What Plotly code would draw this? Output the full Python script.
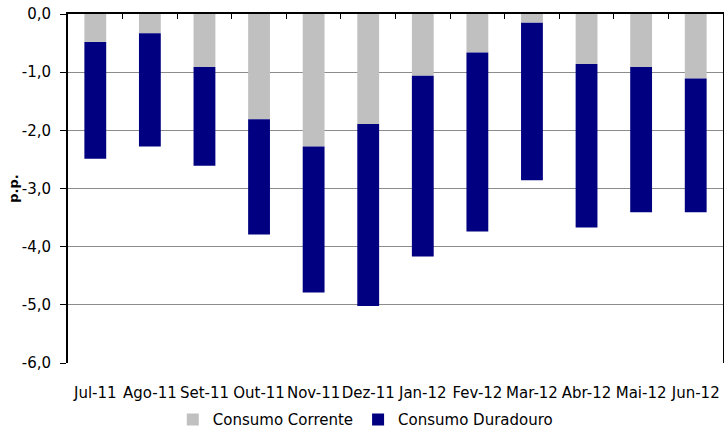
import plotly.graph_objects as go

# months shown on the category axis
meses = ["Jul-11", "Ago-11", "Set-11", "Out-11", "Nov-11", "Dez-11",
         "Jan-12", "Fev-12", "Mar-12", "Abr-12", "Mai-12", "Jun-12"]

# contributions in p.p.
consumo_corrente = [-0.48, -0.33, -0.91, -1.81, -2.28, -1.89,
                    -1.06, -0.66, -0.15, -0.86, -0.91, -1.11]
consumo_duradouro = [-2.01, -1.95, -1.70, -1.98, -2.51, -3.13,
                     -3.11, -3.08, -2.71, -2.81, -2.50, -2.30]

y_ticks = [0, -1, -2, -3, -4, -5, -6]
y_tick_text = ["0,0", "-1,0", "-2,0", "-3,0", "-4,0", "-5,0", "-6,0"]

FONT = "DejaVu Sans"

fig = go.Figure()
fig.add_trace(go.Bar(x=meses, y=consumo_corrente, name="Consumo Corrente",
                     marker=dict(color="#c0c0c0", line=dict(width=0))))
fig.add_trace(go.Bar(x=meses, y=consumo_duradouro, name="Consumo Duradouro",
                     marker=dict(color="#000080", line=dict(width=0))))

fig.update_layout(
    width=724, height=428,
    margin=dict(l=68, r=1, t=14, b=65, autoexpand=False),
    barmode="relative",
    bargap=0.6,
    plot_bgcolor="white",
    paper_bgcolor="white",
    font=dict(family=FONT, size=15, color="black"),
    showlegend=True,
    legend=dict(orientation="h", x=0.16, xanchor="left", y=-0.115,
                yanchor="top", font=dict(size=15), itemwidth=30,
                tracegroupgap=0),
    xaxis=dict(type="category", categoryorder="array", categoryarray=meses,
               range=[-0.5, 11.5], showline=False, ticks="",
               showgrid=False, ticklabelstandoff=19, automargin=False,
               tickangle=0, tickfont=dict(size=15)),
    xaxis2=dict(type="category", categoryorder="array", categoryarray=meses,
                range=[-0.5, 11.5], overlaying="x", side="top",
                anchor="y", showline=True, linecolor="black", linewidth=2,
                ticks="inside", ticklen=5, tickcolor="black",
                tickson="boundaries", showticklabels=False, showgrid=False,
                automargin=False),
    yaxis=dict(range=[-6, 0], tickvals=y_ticks, ticktext=y_tick_text,
               showline=True, linecolor="black", linewidth=2, mirror=True,
               ticks="outside", ticklen=6, tickcolor="black",
               ticklabelstandoff=6,
               showgrid=True, gridcolor="#8c8c8c", gridwidth=1,
               zeroline=False, automargin=False,
               title=dict(text="<b>p.p.</b>", standoff=0,
                          font=dict(size=13))),
    annotations=[dict(text="<b>Consumo Privado</b>", xref="paper",
                      yref="paper", x=0.476, y=1.026, yanchor="bottom",
                      showarrow=False,
                      font=dict(size=20, color="#9999dd"))],
)

# empty trace so the top axis line with boundary ticks is drawn
fig.add_trace(go.Bar(x=meses, y=[None] * len(meses), xaxis="x2",
                     showlegend=False, hoverinfo="skip"))

# drop the default page margin so the figure sits at the window corner
fig.write_html("out.html", config={"displayModeBar": False},
               post_script="document.body.style.margin='0';")
